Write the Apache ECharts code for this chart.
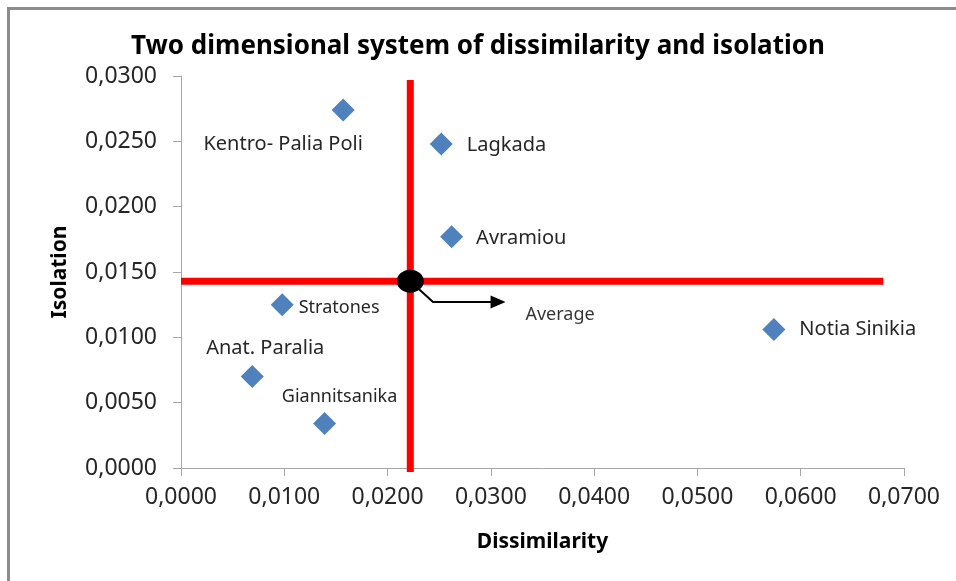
<!DOCTYPE html>
<html>
<head>
<meta charset="utf-8">
<script src="https://cdn.jsdelivr.net/npm/echarts@6/dist/echarts.min.js"></script>
<style>
  html, body { margin: 0; padding: 0; background: #fff; }
  #frame { position: absolute; left: 7px; top: 7px; width: 949px; height: 574px;
           border-top: 3px solid #8c8c8c; border-left: 3px solid #8c8c8c; box-sizing: border-box; }
  #chart { position: absolute; left: 0; top: 0; width: 956px; height: 581px; }
</style>
</head>
<body>
<div id="frame"></div>
<div id="chart"></div>
<script>
// Areas with dissimilarity (x) and isolation (y)
const areaNames = ['Kentro- Palia Poli', 'Lagkada', 'Avramiou', 'Stratones', 'Notia Sinikia', 'Anat. Paralia', 'Giannitsanika'];
const dissimilarity = [0.0157, 0.0252, 0.0262, 0.0098, 0.0574, 0.0069, 0.0139];
const isolation = [0.0274, 0.0248, 0.0177, 0.0125, 0.0106, 0.0070, 0.0034];

// Average cross
const avgX = 0.0222;
const avgY = 0.0143;
const hLineX = [0, 0.0680];
const vLineY = [0.0297, -0.0003];

// Arrow pointing at the average: bend point, arrow end, text anchor
const arrowPath = [[0.0222, 0.0143], [0.0244, 0.0127], [0.0307, 0.0127]];
const avgTextAt = [0.0367, 0.0117];

const xTicks = { min: 0, max: 0.07, step: 0.01 };
const yTicks = { min: 0, max: 0.03, step: 0.005 };

// label placement for each area
const labelStyle = {
  'Kentro- Palia Poli': { position: 'bottom', offset: [-60, 8], fontSize: 20 },
  'Lagkada': { position: 'right', offset: [9, 1], fontSize: 20 },
  'Avramiou': { position: 'right', offset: [8, 2], fontSize: 20 },
  'Stratones': { position: 'right', offset: [0, 3], fontSize: 18 },
  'Notia Sinikia': { position: 'right', offset: [9, 0], fontSize: 20 },
  'Anat. Paralia': { position: 'top', offset: [13, -2], fontSize: 20 },
  'Giannitsanika': { position: 'top', offset: [15, -1], fontSize: 18 }
};

const fmt = v => v.toFixed(4).replace('.', ',');
const font = '"Noto Sans", sans-serif';

const chart = echarts.init(document.getElementById('chart'));

const points = areaNames.map((n, i) => ({
  name: n,
  value: [dissimilarity[i], isolation[i]],
  label: Object.assign({ show: true, formatter: n, color: '#262626', fontFamily: font }, labelStyle[n])
}));

const axisCommon = {
  type: 'value',
  splitLine: { show: false },
  axisLine: { show: true, lineStyle: { color: '#a6a6a6', width: 1 } },
  axisTick: { show: true, length: 8, lineStyle: { color: '#a6a6a6' } },
  axisLabel: { color: '#262626', fontSize: 23, fontFamily: font, formatter: fmt },
  nameLocation: 'middle',
  nameTextStyle: { color: '#000', fontSize: 21, fontWeight: 'bold', fontFamily: font }
};

const option = {
  animation: false,
  backgroundColor: 'transparent',
  title: {
    text: 'Two dimensional system of dissimilarity and isolation',
    left: 'center',
    top: 29,
    textStyle: { fontSize: 26, fontWeight: 'bold', color: '#000', fontFamily: font }
  },
  grid: { left: 181, right: 52, top: 76, bottom: 113 },
  xAxis: Object.assign({}, axisCommon, {
    min: xTicks.min, max: xTicks.max, interval: xTicks.step,
    name: 'Dissimilarity', nameGap: 64,
    axisLabel: Object.assign({}, axisCommon.axisLabel, { margin: 18 })
  }),
  yAxis: Object.assign({}, axisCommon, {
    min: yTicks.min, max: yTicks.max, interval: yTicks.step,
    name: 'Isolation', nameGap: 110,
    axisLabel: Object.assign({}, axisCommon.axisLabel, { margin: 24 })
  }),
  series: [
    {
      type: 'line',
      data: hLineX.map(x => [x, avgY]),
      symbol: 'none',
      clip: false,
      lineStyle: { color: '#ff0000', width: 7 },
      z: 3
    },
    {
      type: 'line',
      data: vLineY.map(y => [avgX, y]),
      symbol: 'none',
      clip: false,
      lineStyle: { color: '#ff0000', width: 7 },
      z: 3
    },
    {
      type: 'scatter',
      data: points,
      symbol: 'diamond',
      symbolSize: 23,
      itemStyle: { color: '#4f81bd', opacity: 1 },
      z: 4
    },
    {
      type: 'line',
      data: arrowPath,
      symbol: 'none',
      lineStyle: { color: '#000', width: 2 },
      markLine: {
        silent: true,
        symbol: ['none', 'triangle'],
        symbolSize: [13, 15],
        lineStyle: { color: '#000', width: 2, type: 'solid' },
        label: { show: false },
        data: [[{ coord: arrowPath[1] }, { coord: arrowPath[2] }]]
      },
      z: 5
    },
    {
      type: 'scatter',
      data: [{ value: avgTextAt, name: 'Average' }],
      symbolSize: 0,
      label: { show: true, position: 'inside', formatter: 'Average', color: '#000', fontSize: 18, fontFamily: font },
      z: 5
    },
    {
      type: 'scatter',
      data: [[avgX, avgY]],
      symbol: 'circle',
      symbolSize: [27, 23],
      itemStyle: { color: '#000', opacity: 1 },
      z: 6
    }
  ]
};

chart.setOption(option);
</script>
</body>
</html>
